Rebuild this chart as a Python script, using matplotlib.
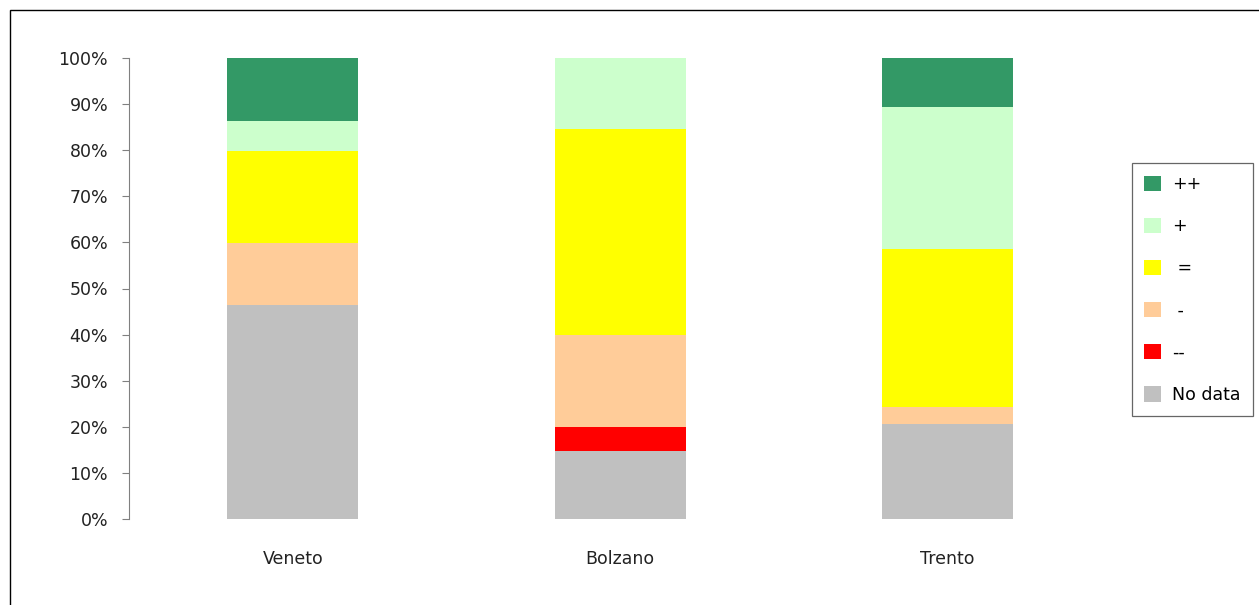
import matplotlib
matplotlib.use("Agg")
import matplotlib.pyplot as plt
from matplotlib.patches import Patch, Rectangle
import numpy as np

plt.rcParams['font.family'] = ['DejaVu Sans']

regions = ["Veneto", "Bolzano", "Trento"]
series_names = ["No data", "--", " -", " =", "+", "++"]
no_data = [46.4, 14.8, 20.6]
very_neg = [0.0, 5.2, 0.0]
neg = [13.5, 19.9, 3.7]
neutral = [20.0, 44.7, 34.3]
pos = [6.5, 15.4, 30.8]
very_pos = [13.6, 0.0, 10.6]
colors = ["#C0C0C0", "#FF0000", "#FFCC99", "#FFFF00", "#CCFFCC", "#339966"]
yticks = [0, 10, 20, 30, 40, 50, 60, 70, 80, 90, 100]

FS = 12.5
fig = plt.figure(figsize=(12.59, 6.05), dpi=100)
ax = fig.add_axes([129/1259, 1-519/605, (1111.5-129)/1259, (519-58)/605])

x = np.arange(len(regions))
bottom = np.zeros(len(regions))
handles = []
for vals, c, name in zip([no_data, very_neg, neg, neutral, pos, very_pos], colors, series_names):
    ax.bar(x, vals, bottom=bottom, width=0.4, color=c, edgecolor='none')
    bottom += np.array(vals)
    handles.append(Patch(facecolor=c, edgecolor='none', label=name))

ax.set_xlim(-0.5, 2.5)
ax.set_ylim(0, 100)
ax.set_yticks(yticks)
ax.set_yticklabels([f"{t}%" for t in yticks], fontsize=FS, color='#222222')
ax.set_xticks(x)
ax.set_xticklabels(regions, fontsize=FS, color='#222222')
ax.tick_params(axis='x', length=0, pad=22)
ax.tick_params(axis='y', direction='out', length=5, color='#808080', pad=10)
for s in ['top', 'right', 'bottom']:
    ax.spines[s].set_visible(False)
ax.spines['left'].set_color('#808080')

leg = fig.legend(handles=handles[::-1], loc='upper left',
                 bbox_to_anchor=(1132/1259, 1-163/605), frameon=True,
                 fontsize=FS, handlelength=0.98, handleheight=0.98,
                 labelspacing=1.39, handletextpad=0.63, borderpad=0.7,
                 fancybox=False, edgecolor='#404040', borderaxespad=0)
leg.get_frame().set_linewidth(0.9)

fig.patches.append(Rectangle((10/1259, -0.1), 1.2, 1.1-10/605, transform=fig.transFigure,
                             fill=False, edgecolor='black', linewidth=1.0))

fig.savefig("out.png", dpi=100)
